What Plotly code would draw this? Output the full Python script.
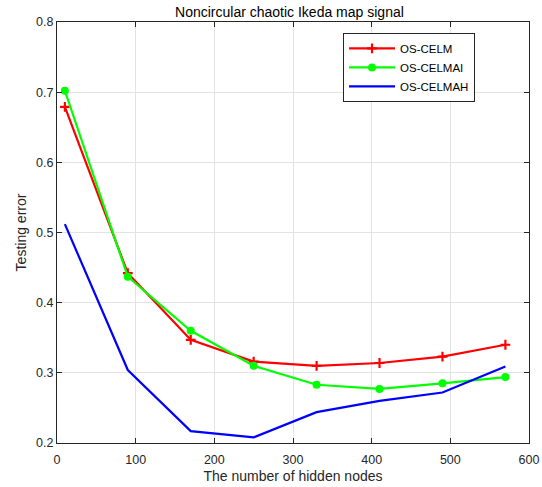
import plotly.graph_objects as go

hidden_nodes = [10, 90, 170, 250, 330, 410, 490, 570]
os_celm = [0.679, 0.442, 0.347, 0.316, 0.310, 0.314, 0.323, 0.340]
os_celmai = [0.702, 0.437, 0.360, 0.310, 0.283, 0.277, 0.285, 0.294]
os_celmah = [0.512, 0.304, 0.217, 0.208, 0.244, 0.260, 0.272, 0.309]
x_ticks = [0, 100, 200, 300, 400, 500, 600]
y_ticks = [0.2, 0.3, 0.4, 0.5, 0.6, 0.7, 0.8]

FONT = "Liberation Sans, Arial, Helvetica, sans-serif"
AX = "#262626"

fig = go.Figure()
fig.add_trace(go.Scatter(
    x=hidden_nodes, y=os_celm, name="OS-CELM", mode="lines+markers",
    line=dict(color="#ff0000", width=2.2),
    marker=dict(symbol="cross-thin", size=7, line=dict(color="#ff0000", width=2.2)),
))
fig.add_trace(go.Scatter(
    x=hidden_nodes, y=os_celmai, name="OS-CELMAI", mode="lines+markers",
    line=dict(color="#00ff00", width=2.2),
    marker=dict(symbol="circle", size=8, color="#00ff00"),
))
fig.add_trace(go.Scatter(
    x=hidden_nodes, y=os_celmah, name="OS-CELMAH", mode="lines",
    line=dict(color="#0000ff", width=2.2),
))

axis_common = dict(
    showline=True, linecolor=AX, linewidth=1, mirror="ticks",
    ticks="inside", ticklen=5, tickcolor=AX, tickwidth=1,
    showgrid=True, gridcolor="#e3e3e3", gridwidth=1, zeroline=False,
    tickfont=dict(family=FONT, size=12.5, color=AX), automargin=False,
)

fig.update_xaxes(range=[0, 600], tickvals=x_ticks, ticktext=[str(v) for v in x_ticks],
                 ticklabelstandoff=5,
                 title=dict(text="The number of hidden nodes", font=dict(family=FONT, size=14, color=AX), standoff=5),
                 **axis_common)
fig.update_yaxes(range=[0.2, 0.8], tickvals=y_ticks, ticktext=[f"{v:.1f}" for v in y_ticks],
                 title=dict(text="Testing error", font=dict(family=FONT, size=14, color=AX), standoff=6),
                 **axis_common)

fig.update_layout(
    width=542, height=487,
    margin=dict(l=57, r=13, t=22, b=44, autoexpand=False),
    paper_bgcolor="white", plot_bgcolor="white",
    title=dict(text="Noncircular chaotic Ikeda map signal", x=0.534, xanchor="center",
               y=1 - 12.5 / 487, yanchor="middle", font=dict(family=FONT, size=14, color="#000000")),
    legend=dict(x=0.606, y=0.974, xanchor="left", yanchor="top",
                bordercolor=AX, borderwidth=1, bgcolor="white",
                font=dict(family=FONT, size=11.5, color="#000000"),
                tracegroupgap=0, itemwidth=46),
    showlegend=True,
)

fig.write_html("out.html", config={"displayModeBar": False},
               post_script="document.body.style.margin='0';")
